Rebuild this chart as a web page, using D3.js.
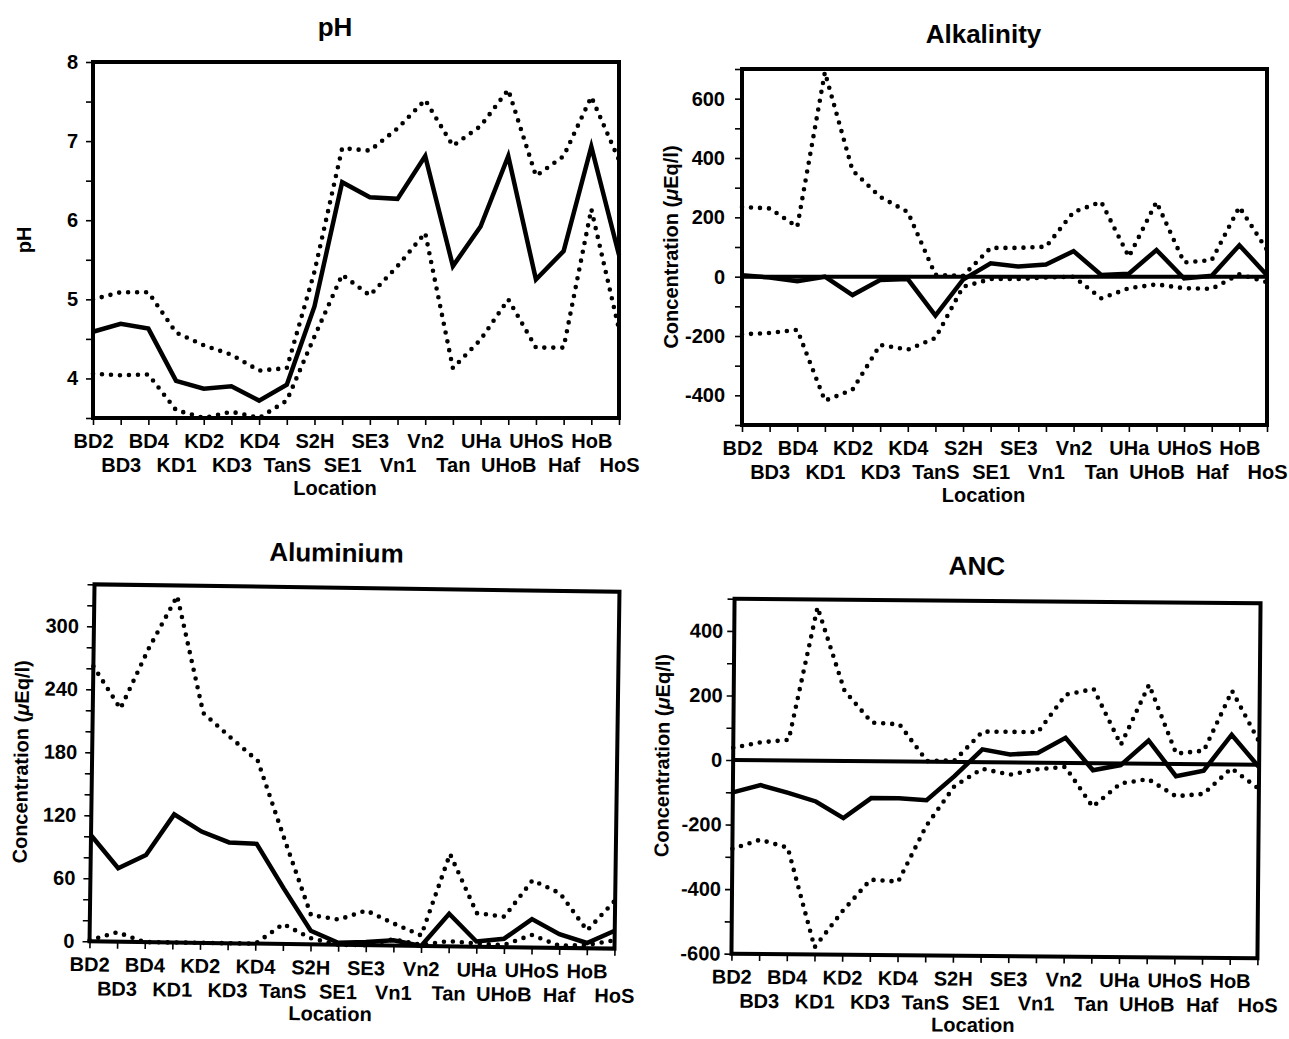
<!DOCTYPE html>
<html>
<head>
  <meta charset="utf-8">
  <script src="https://cdn.jsdelivr.net/npm/d3@7"></script>
  <style type="text/css">
    body {
      margin: 0;
      background: #fff;
    }
    svg text {
      font-family: "Liberation Sans", Arial, Helvetica, sans-serif;
      font-weight: bold;
      fill: #000;
    }
  </style>
</head>
<body>
  <script type="text/javascript">

  // sampling locations, in plot order
  const locations = ['BD2', 'BD3', 'BD4', 'KD1', 'KD2', 'KD3', 'KD4', 'TanS', 'S2H', 'SE1',
                     'SE3', 'Vn1', 'Vn2', 'Tan', 'UHa', 'UHoB', 'UHoS', 'Haf', 'HoB', 'HoS'];

  // pH: mean (solid) and upper / lower bounds (dotted)
  const phMean  = [4.59, 4.69, 4.63, 3.97, 3.87, 3.90, 3.72, 3.92, 4.91, 6.48, 6.29, 6.27, 6.81, 5.42, 5.92, 6.81, 5.25, 5.61, 6.93, 5.56];
  const phUpper = [5.00, 5.09, 5.09, 4.58, 4.42, 4.30, 4.10, 4.13, 5.35, 6.91, 6.88, 7.16, 7.52, 6.94, 7.19, 7.65, 6.56, 6.81, 7.56, 6.76];
  const phLower = [4.06, 4.04, 4.05, 3.60, 3.50, 3.58, 3.50, 3.72, 4.53, 5.31, 5.05, 5.42, 5.84, 4.13, 4.49, 5.00, 4.39, 4.39, 6.14, 4.62];

  // Alkalinity (uEq/l)
  const alkMean  = [5, -3, -15, 0, -62, -11, -8, -131, -10, 45, 34, 41, 86, 6, 10, 90, -6, 3, 106, 5];
  const alkUpper = [235, 230, 168, 689, 358, 269, 218, 6, 3, 97, 97, 101, 218, 252, 67, 252, 48, 56, 235, 90];
  const alkLower = [-194, -190, -179, -418, -381, -230, -246, -207, -34, -8, -8, -3, 0, -73, -39, -26, -39, -41, 8, -19];

  // Aluminium (uEq/l)
  const alMean  = [101, 70, 83, 122, 106, 96, 95, 53, 13, 2, 3, 5, 0, 31, 5, 8, 27, 13, 5, 17];
  const alUpper = [262, 222, 280, 330, 219, 196, 174, 100, 28, 24, 33, 21, 10, 88, 32, 29, 64, 52, 17, 46];
  const alLower = [1, 9, 0, 0, 0, 0, 0, 19, 6, 0, 0, 6, 1, 5, 3, 2, 12, 2, 3, 8];

  // ANC (uEq/l)
  const ancMean  = [-100, -77, -100, -126, -177, -114, -114, -119, -44, 40, 25, 30, 78, -22, -5, 72, -38, -20, 92, -8];
  const ancUpper = [38, 56, 64, 476, 218, 120, 115, 2, 5, 95, 95, 95, 212, 230, 58, 245, 32, 42, 228, 70];
  const ancLower = [-275, -246, -270, -578, -465, -367, -372, -198, -75, -20, -38, -20, -12, -135, -62, -48, -100, -92, -12, -75];

  // labelled y ticks
  const phTickLabels  = [4, 5, 6, 7, 8];
  const alkTickLabels = [-400, -200, 0, 200, 400, 600];
  const alTickLabels  = [0, 60, 120, 180, 240, 300];
  const ancTickLabels = [-600, -400, -200, 0, 200, 400];

  const concLabel = 'Concentration (';

  const panels = [
    {title: 'pH', ylab: 'pH', mean: phMean, upper: phUpper, lower: phLower,
     domain: [3.5, 8], step: 0.5, labels: phTickLabels, zero: false,
     left: 93, top: 62, width: 526, height: 356, rot: 0, pad: 8, ylabDy: 0, locY: 77},
    {title: 'Alkalinity', ylab: 'conc', mean: alkMean, upper: alkUpper, lower: alkLower,
     domain: [-500, 700], step: 100, labels: alkTickLabels, zero: true,
     left: 742, top: 69, width: 525, height: 356, rot: 0, pad: 10, ylabDy: 0, locY: 77},
    {title: 'Aluminium', ylab: 'conc', mean: alMean, upper: alUpper, lower: alLower,
     domain: [0, 340], step: 20, labels: alTickLabels, zero: false,
     left: 92, top: 588, width: 525, height: 357, rot: 0.8, pad: 8, ylabDy: 0, locY: 76},
    {title: 'ANC', ylab: 'conc', mean: ancMean, upper: ancUpper, lower: ancLower,
     domain: [-600, 500], step: 100, labels: ancTickLabels, zero: true,
     left: 733, top: 601, width: 526, height: 355, rot: 0.5, pad: 4, ylabDy: -20, locY: 76}
  ];

  const svg = d3.select('body').append('svg')
    .attr('width', 1289)
    .attr('height', 1039);

  panels.forEach(drawPanel);

  function drawPanel(p) {
    const cx = p.left + p.width / 2;
    const cy = p.top + p.height / 2;
    const g = svg.append('g')
      .attr('transform', `rotate(${p.rot},${cx},${cy}) translate(${p.left},${p.top})`);

    const x = d3.scalePoint().domain(locations).range([0, p.width]);
    const y = d3.scaleLinear().domain(p.domain).range([p.height, 0]);

    // y axis: minor ticks every step, text only on the labelled values
    const yTicks = d3.range(p.domain[0], p.domain[1] + p.step / 2, p.step);
    const yAxis = d3.axisLeft(y)
      .tickValues(yTicks)
      .tickSize(7)
      .tickPadding(p.pad)
      .tickFormat(d => p.labels.some(l => Math.abs(l - d) < 1e-6) ? String(Math.round(d)) : '');
    const ya = g.append('g').call(yAxis);
    ya.select('.domain').remove();
    ya.selectAll('line').attr('stroke', '#000').attr('stroke-width', 1.6);
    ya.selectAll('text').attr('font-size', 20).attr('font-family', null);

    // x axis: labels alternate on two rows
    const xAxis = d3.axisBottom(x).tickSize(7);
    const xa = g.append('g').attr('transform', `translate(0,${p.height})`).call(xAxis);
    xa.select('.domain').remove();
    xa.selectAll('line').attr('stroke', '#000').attr('stroke-width', 1.6);
    xa.selectAll('text')
      .attr('font-size', 20)
      .attr('font-family', null)
      .attr('dy', null)
      .attr('y', (d, i) => i % 2 === 0 ? 30 : 54);

    // zero reference line
    if (p.zero) {
      g.append('line')
        .attr('x1', 0).attr('x2', p.width)
        .attr('y1', y(0)).attr('y2', y(0))
        .attr('stroke', '#000').attr('stroke-width', 4);
    }

    const line = d3.line()
      .x((d, i) => x(locations[i]))
      .y(d => y(d));

    [p.upper, p.lower].forEach(s => {
      g.append('path')
        .attr('d', line(s))
        .attr('fill', 'none')
        .attr('stroke', '#000')
        .attr('stroke-width', 4.6)
        .attr('stroke-linecap', 'round')
        .attr('stroke-dasharray', '0 9');
    });

    g.append('path')
      .attr('d', line(p.mean))
      .attr('fill', 'none')
      .attr('stroke', '#000')
      .attr('stroke-width', 4.5)
      .attr('stroke-linejoin', 'miter');

    // frame
    g.append('rect')
      .attr('width', p.width)
      .attr('height', p.height)
      .attr('fill', 'none')
      .attr('stroke', '#000')
      .attr('stroke-width', 4);

    // titles
    g.append('text')
      .attr('x', p.width / 2 - 21)
      .attr('y', -26)
      .attr('text-anchor', 'middle')
      .attr('font-size', 26)
      .text(p.title);

    g.append('text')
      .attr('x', p.width / 2 - 21)
      .attr('y', p.height + p.locY)
      .attr('text-anchor', 'middle')
      .attr('font-size', 20)
      .text('Location');

    const yl = g.append('text')
      .attr('transform', `translate(${p.ylab === 'pH' ? -62 : -64},${p.height / 2 + p.ylabDy}) rotate(-90)`)
      .attr('text-anchor', 'middle')
      .attr('font-size', 20);
    if (p.ylab === 'pH') {
      yl.text('pH');
    } else {
      yl.append('tspan').text(concLabel);
      yl.append('tspan').attr('font-style', 'italic').text('\u03bc');
      yl.append('tspan').text('Eq/l)');
    }
  }

  </script>
</body>
</html>
